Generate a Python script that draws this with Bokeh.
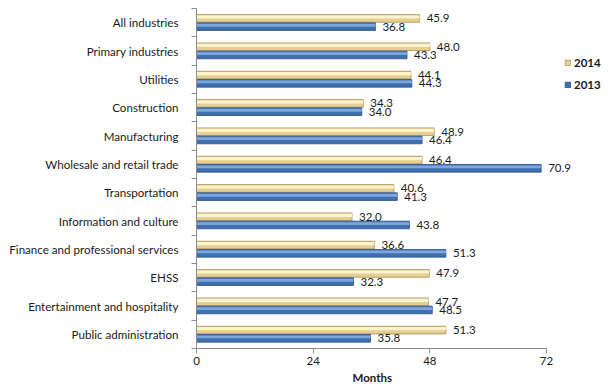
from bokeh.plotting import figure
from bokeh.models import FixedTicker, Legend, LegendItem, ColumnDataSource, Range1d, Title
from bokeh.core.properties import value
from bokeh.embed import file_html
from bokeh.resources import INLINE

categories = ["All industries", "Primary industries", "Utilities", "Construction",
              "Manufacturing", "Wholesale and retail trade", "Transportation",
              "Information and culture", "Finance and professional services", "EHSS",
              "Entertainment and hospitality", "Public administration"]
values_2014 = [45.9, 48.0, 44.1, 34.3, 48.9, 46.4, 40.6, 32.0, 36.6, 47.9, 47.7, 51.3]
values_2013 = [36.8, 43.3, 44.3, 34.0, 46.4, 70.9, 41.3, 43.8, 51.3, 32.3, 48.5, 35.8]
x_ticks = [0, 24, 48, 72]
x_title = "Months"

n = len(categories)
centers = [n - i - 0.5 for i in range(n)]
y14 = [c + 0.15 for c in centers]
y13 = [c - 0.14 for c in centers]

src = ColumnDataSource(dict(
    y14=y14, y13=y13, v14=values_2014, v13=values_2013,
    l14=[f"{v:.1f}" for v in values_2014], l13=[f"{v:.1f}" for v in values_2013],
    y14h=[y + 0.05 for y in y14], y13h=[y + 0.05 for y in y13],
))

FONT = "Lato"
LEFT = 196
AXIS_END_PX = 546
x_max = x_ticks[-1] * (612 - LEFT) / (AXIS_END_PX - LEFT)

p = figure(width=612, height=387, output_backend="svg", toolbar_location=None,
           x_range=Range1d(0, x_max), y_range=Range1d(0, n),
           min_border_left=LEFT, min_border_right=0, min_border_top=8, min_border_bottom=39)
p.outline_line_color = None
p.xgrid.visible = False
p.ygrid.visible = False

# 2014 bars (cream/gold cylinder look)
r14 = p.hbar(y="y14", right="v14", left=0, height=0.27, source=src,
             fill_color="#e6cf92", line_color="#a88f58", line_width=0.8)
p.hbar(y="y14h", right="v14", left=0, height=0.11, source=src,
       fill_color="#fcf3cf", line_color=None)
# 2013 bars (blue cylinder look)
r13 = p.hbar(y="y13", right="v13", left=0, height=0.27, source=src,
             fill_color="#3f6fae", line_color="#2a4f80", line_width=0.8)
p.hbar(y="y13h", right="v13", left=0, height=0.10, source=src,
       fill_color="#7ea6dc", line_color=None)

p.text(x="v14", y="y14", text="l14", source=src, x_offset=7,
       text_baseline="middle", text_font=value(FONT), text_font_size="11.5px", text_color="#1a1a1a")
p.text(x="v13", y="y13", text="l13", source=src, x_offset=7,
       text_baseline="middle", text_font=value(FONT), text_font_size="11.5px", text_color="#1a1a1a")

# y axis
p.yaxis.ticker = FixedTicker(ticks=centers, minor_ticks=list(range(0, n + 1)))
p.yaxis.major_label_overrides = {c: cat for c, cat in zip(centers, categories)}
p.yaxis.major_tick_out = 0
p.yaxis.major_tick_in = 0
p.yaxis.minor_tick_out = 5
p.yaxis.minor_tick_in = 0
p.yaxis.axis_line_color = "#8c8c8c"
p.yaxis.minor_tick_line_color = "#8c8c8c"
p.yaxis.major_label_text_font = FONT
p.yaxis.major_label_text_font_size = "11.6px"
p.yaxis.major_label_text_color = "#1a1a1a"
p.yaxis.major_label_standoff = 13

# x axis
p.xaxis.ticker = FixedTicker(ticks=x_ticks)
p.xaxis.bounds = (x_ticks[0], x_ticks[-1])
p.xaxis.major_tick_out = 5
p.xaxis.major_tick_in = 0
p.xaxis.minor_tick_out = 0
p.xaxis.axis_line_color = "#8c8c8c"
p.xaxis.major_tick_line_color = "#8c8c8c"
p.xaxis.major_label_text_font = FONT
p.xaxis.major_label_text_font_size = "11.5px"
p.xaxis.major_label_text_color = "#1a1a1a"
p.xaxis.major_label_standoff = 3

title_below = Title(text=x_title, align="left", offset=156, standoff=3,
                    text_font=FONT, text_font_size="11.5px", text_font_style="bold",
                    text_color="#1a1a1a")
p.add_layout(title_below, "below")

legend = Legend(items=[LegendItem(label="2014", renderers=[r14]),
                       LegendItem(label="2013", renderers=[r13])],
                location=(368, 257), orientation="vertical",
                background_fill_alpha=0, border_line_color=None,
                label_text_font=FONT, label_text_font_size="11.5px",
                label_text_font_style="bold", label_text_color="#1a1a1a",
                glyph_width=7, glyph_height=7, spacing=9, padding=0, margin=0,
                label_standoff=3)
p.add_layout(legend, "center")

open("out.html", "w").write(file_html(p, INLINE))
